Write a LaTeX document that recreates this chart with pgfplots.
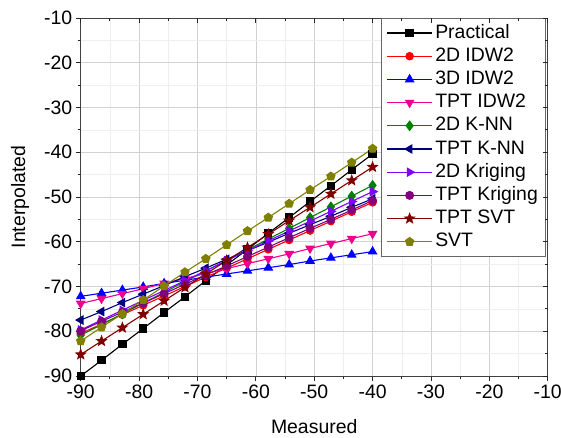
\documentclass[border=0pt]{standalone}
\usepackage{pgfplots}
\pgfplotsset{compat=1.18}
\usepackage{fontspec}
\setmainfont{Liberation Sans}
\usetikzlibrary{plotmarks}

\definecolor{cnavy}{RGB}{0,0,128}
\definecolor{cgreen}{RGB}{0,128,0}
\definecolor{cviolet}{RGB}{128,0,255}
\definecolor{cpurple}{RGB}{128,0,128}
\definecolor{cwine}{RGB}{128,0,0}
\definecolor{colive}{RGB}{128,128,0}

% filled five-point star
\pgfdeclareplotmark{fstar}{%
  \pgfpathmoveto{\pgfpointpolar{90}{1.3\pgfplotmarksize}}%
  \pgfpathlineto{\pgfpointpolar{126}{0.55\pgfplotmarksize}}%
  \pgfpathlineto{\pgfpointpolar{162}{1.3\pgfplotmarksize}}%
  \pgfpathlineto{\pgfpointpolar{198}{0.55\pgfplotmarksize}}%
  \pgfpathlineto{\pgfpointpolar{234}{1.3\pgfplotmarksize}}%
  \pgfpathlineto{\pgfpointpolar{270}{0.55\pgfplotmarksize}}%
  \pgfpathlineto{\pgfpointpolar{306}{1.3\pgfplotmarksize}}%
  \pgfpathlineto{\pgfpointpolar{342}{0.55\pgfplotmarksize}}%
  \pgfpathlineto{\pgfpointpolar{18}{1.3\pgfplotmarksize}}%
  \pgfpathlineto{\pgfpointpolar{54}{0.55\pgfplotmarksize}}%
  \pgfpathclose\pgfusepathqfillstroke}

\newcommand{\chartfont}{\fontsize{19.5}{23}\selectfont}

\begin{document}
\begin{tikzpicture}
\pgfplotsset{
  frame/.style={
    width=467bp, height=358bp, scale only axis,
    at={(0,0)}, anchor=south west,
    xmin=-90, xmax=-10, ymin=-90, ymax=-10,
    xtick={-90,-80,...,-10}, ytick={-90,-80,...,-10},
    minor tick num=1,
    major tick length=5bp, minor tick length=3bp,
    tick style={black!85, line width=0.8bp},
    axis line style={black!75, line width=0.9bp},
  },
}
\begin{axis}[
  frame,
  grid=both,
  major grid style={gray!35, line width=0.6bp},
  minor grid style={gray!13, line width=0.5bp},
  xtick pos=bottom, ytick pos=left, tick align=outside,
  ticklabel style={font=\chartfont},
  /pgf/number format/assume math mode=true,
  xlabel={Measured}, ylabel={Interpolated},
  label style={font=\chartfont},
  xlabel style={yshift=-14bp},
  ylabel style={yshift=8bp},
  every axis plot/.append style={line width=1.1bp},
  legend style={
    at={(0.996,1)}, anchor=north east,
    draw=black!60, line width=0.8bp,
    font=\chartfont,
    nodes={text height=14bp, text depth=4bp, inner sep=2.6bp},
    inner xsep=5bp, inner ysep=3bp,
  },
  legend cell align=left,
  legend image code/.code={%
    \draw[mark repeat=2, mark phase=2] plot coordinates {(0bp,0bp) (22.5bp,0bp) (45bp,0bp)};},
]
% Practical
\addplot[black, mark=square*, mark size=3.6bp] coordinates {
  (-90,-90.0) (-86.43,-86.5) (-82.86,-82.9) (-79.29,-79.4) (-75.71,-75.8)
  (-72.14,-72.3) (-68.57,-68.7) (-65,-65.2) (-61.43,-61.7) (-57.86,-58.1)
  (-54.29,-54.6) (-50.71,-51.0) (-47.14,-47.5) (-43.57,-43.9) (-40,-40.4)};
\addlegendentry{Practical}
% 2D IDW2
\addplot[red, mark=*, mark size=3.7bp] coordinates {
  (-90,-80.5) (-86.43,-78.4) (-82.86,-76.3) (-79.29,-74.2) (-75.71,-72.1)
  (-72.14,-70.0) (-68.57,-67.9) (-65,-65.9) (-61.43,-63.8) (-57.86,-61.7)
  (-54.29,-59.6) (-50.71,-57.5) (-47.14,-55.4) (-43.57,-53.3) (-40,-51.2)};
\addlegendentry{2D IDW2}
% 3D IDW2
\addplot[blue, mark=triangle*, mark size=4.6bp] coordinates {
  (-90,-72.2) (-86.43,-71.5) (-82.86,-70.8) (-79.29,-70.1) (-75.71,-69.3)
  (-72.14,-68.6) (-68.57,-67.9) (-65,-67.2) (-61.43,-66.5) (-57.86,-65.8)
  (-54.29,-65.1) (-50.71,-64.3) (-47.14,-63.6) (-43.57,-62.9) (-40,-62.2)};
\addlegendentry{3D IDW2}
% TPT IDW2
\addplot[magenta, mark=triangle*, mark size=4.6bp, mark options={rotate=180}] coordinates {
  (-90,-73.8) (-86.43,-72.7) (-82.86,-71.6) (-79.29,-70.5) (-75.71,-69.3)
  (-72.14,-68.2) (-68.57,-67.1) (-65,-66.0) (-61.43,-64.9) (-57.86,-63.8)
  (-54.29,-62.7) (-50.71,-61.5) (-47.14,-60.4) (-43.57,-59.3) (-40,-58.2)};
\addlegendentry{TPT IDW2}
% 2D K-NN
\addplot[cgreen, mark=diamond*, mark size=4.6bp] coordinates {
  (-90,-80.9) (-86.43,-78.5) (-82.86,-76.1) (-79.29,-73.7) (-75.71,-71.3)
  (-72.14,-68.9) (-68.57,-66.5) (-65,-64.2) (-61.43,-61.8) (-57.86,-59.4)
  (-54.29,-57.0) (-50.71,-54.6) (-47.14,-52.2) (-43.57,-49.8) (-40,-47.4)};
\addlegendentry{2D K-NN}
% TPT K-NN
\addplot[cnavy, mark=triangle*, mark size=4.6bp, mark options={rotate=90}] coordinates {
  (-90,-77.5) (-86.43,-75.6) (-82.86,-73.6) (-79.29,-71.7) (-75.71,-69.8)
  (-72.14,-67.8) (-68.57,-65.9) (-65,-63.9) (-61.43,-62.0) (-57.86,-60.1)
  (-54.29,-58.1) (-50.71,-56.2) (-47.14,-54.3) (-43.57,-52.3) (-40,-50.4)};
\addlegendentry{TPT K-NN}
% 2D Kriging
\addplot[cviolet, mark=triangle*, mark size=4.6bp, mark options={rotate=-90}] coordinates {
  (-90,-79.7) (-86.43,-77.5) (-82.86,-75.3) (-79.29,-73.1) (-75.71,-70.9)
  (-72.14,-68.7) (-68.57,-66.5) (-65,-64.2) (-61.43,-62.0) (-57.86,-59.8)
  (-54.29,-57.6) (-50.71,-55.4) (-47.14,-53.2) (-43.57,-51.0) (-40,-48.8)};
\addlegendentry{2D Kriging}
% TPT Kriging
\addplot[cpurple, mark=*, mark size=3.9bp] coordinates {
  (-90,-79.9) (-86.43,-77.8) (-82.86,-75.7) (-79.29,-73.7) (-75.71,-71.6)
  (-72.14,-69.5) (-68.57,-67.4) (-65,-65.4) (-61.43,-63.3) (-57.86,-61.2)
  (-54.29,-59.1) (-50.71,-57.0) (-47.14,-55.0) (-43.57,-52.9) (-40,-50.8)};
\addlegendentry{TPT Kriging}
% TPT SVT
\addplot[cwine, mark=fstar, mark size=3.7bp] coordinates {
  (-90,-85.2) (-86.43,-82.2) (-82.86,-79.2) (-79.29,-76.2) (-75.71,-73.2)
  (-72.14,-70.2) (-68.57,-67.2) (-65,-64.2) (-61.43,-61.3) (-57.86,-58.3)
  (-54.29,-55.3) (-50.71,-52.3) (-47.14,-49.3) (-43.57,-46.3) (-40,-43.3)};
\addlegendentry{TPT SVT}
% SVT
\addplot[colive, mark=pentagon*, mark size=4.3bp] coordinates {
  (-90,-82.2) (-86.43,-79.1) (-82.86,-76.1) (-79.29,-73.0) (-75.71,-69.9)
  (-72.14,-66.8) (-68.57,-63.8) (-65,-60.7) (-61.43,-57.6) (-57.86,-54.6)
  (-54.29,-51.5) (-50.71,-48.4) (-47.14,-45.4) (-43.57,-42.3) (-40,-39.2)};
\addlegendentry{SVT}
\end{axis}
% mirrored ticks on top and right, pointing inward
\begin{axis}[
  frame,
  xtick pos=top, ytick pos=right, tick align=inside,
  xticklabels={}, yticklabels={},
  axis line style={draw=none},
]
\addplot[draw=none] coordinates {(-90,-90) (-10,-10)};
\end{axis}
\pgfresetboundingbox
\useasboundingbox (-80.7bp,-62bp) rectangle (480.3bp,376bp);
\end{tikzpicture}
\end{document}
